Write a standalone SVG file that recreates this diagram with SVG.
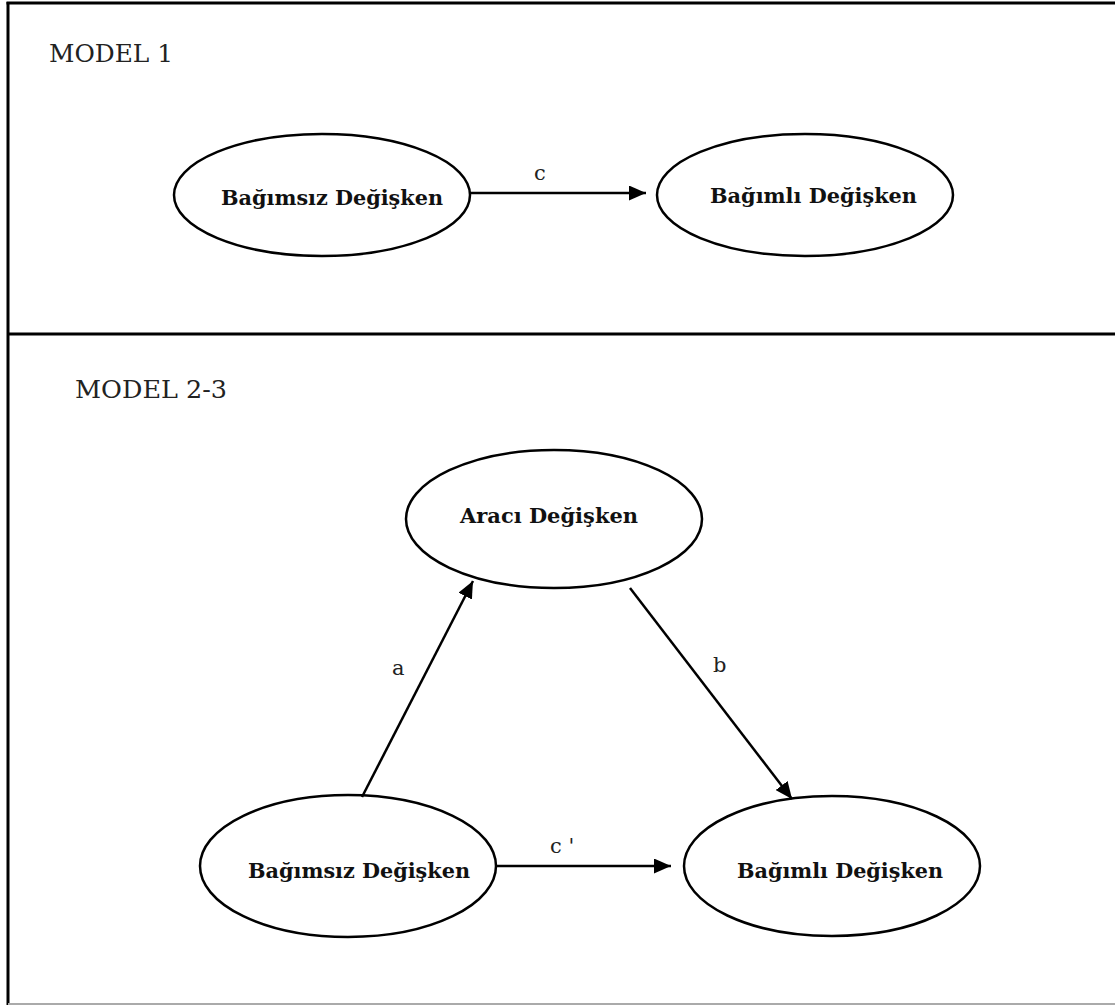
<svg xmlns="http://www.w3.org/2000/svg" width="1115" height="1005" viewBox="0 0 1115 1005">
<style>
.frame{stroke:#000;stroke-width:3;fill:none}
.node{fill:#fff;stroke:#000;stroke-width:2.5}
.nt{font-family:"DejaVu Serif","Liberation Serif",serif;font-weight:bold;font-size:20px;fill:#111;text-anchor:start}
.title{font-family:"DejaVu Serif","Liberation Serif",serif;font-size:25px;fill:#222}
.lbl{font-family:"DejaVu Serif","Liberation Serif",serif;font-size:21px;fill:#222}
.edge{stroke:#000;stroke-width:2.5;fill:none}
</style>
<defs>
<marker id="ah" viewBox="0 0 17 15" refX="17" refY="7.5" markerWidth="17" markerHeight="15" markerUnits="userSpaceOnUse" orient="auto">
<path d="M0,0 L17,7.5 L0,15 Z" fill="#000"/>
</marker>
</defs>
<rect width="1115" height="1005" fill="#fff"/>
<g id="frame">
<line class="frame" x1="8" y1="2" x2="8" y2="1005"/>
<line class="frame" x1="6.5" y1="3" x2="1115" y2="3"/>
<line class="frame" x1="8" y1="334" x2="1115" y2="334"/>
<line x1="8" y1="1004" x2="1115" y2="1004" stroke="#aaa" stroke-width="2"/>
</g>
<text class="title" x="49" y="62" textLength="124" lengthAdjust="spacingAndGlyphs">MODEL 1</text>
<text class="title" x="75" y="398" textLength="152" lengthAdjust="spacingAndGlyphs">MODEL 2-3</text>
<g id="m1-bagimsiz">
<ellipse class="node" cx="322" cy="195" rx="148" ry="61"/>
<text class="nt" x="221" y="205" textLength="222" lengthAdjust="spacingAndGlyphs">Bağımsız Değişken</text>
</g>
<g id="m1-bagimli">
<ellipse class="node" cx="805" cy="195" rx="148" ry="61"/>
<text class="nt" x="710" y="203" textLength="207" lengthAdjust="spacingAndGlyphs">Bağımlı Değişken</text>
</g>
<g id="m2-araci">
<ellipse class="node" cx="554" cy="519" rx="148" ry="69"/>
<text class="nt" x="460" y="523" textLength="178" lengthAdjust="spacingAndGlyphs">Aracı Değişken</text>
</g>
<g id="m2-bagimsiz">
<ellipse class="node" cx="348" cy="866" rx="148" ry="71"/>
<text class="nt" x="248" y="878" textLength="222" lengthAdjust="spacingAndGlyphs">Bağımsız Değişken</text>
</g>
<g id="m2-bagimli">
<ellipse class="node" cx="832" cy="866" rx="148" ry="70"/>
<text class="nt" x="737" y="878" textLength="206" lengthAdjust="spacingAndGlyphs">Bağımlı Değişken</text>
</g>
<g id="connectors">
<line class="edge" x1="470" y1="193" x2="646" y2="193" marker-end="url(#ah)"/>
<line class="edge" x1="497" y1="866" x2="671" y2="866" marker-end="url(#ah)"/>
<line class="edge" x1="362" y1="797" x2="473" y2="581" marker-end="url(#ah)"/>
<line class="edge" x1="630" y1="588" x2="792" y2="799" marker-end="url(#ah)"/>
<text class="lbl" x="534" y="180">c</text>
<text class="lbl" x="550" y="853">c '</text>
<text class="lbl" x="392" y="675">a</text>
<text class="lbl" x="713" y="672">b</text>
</g>
</svg>
